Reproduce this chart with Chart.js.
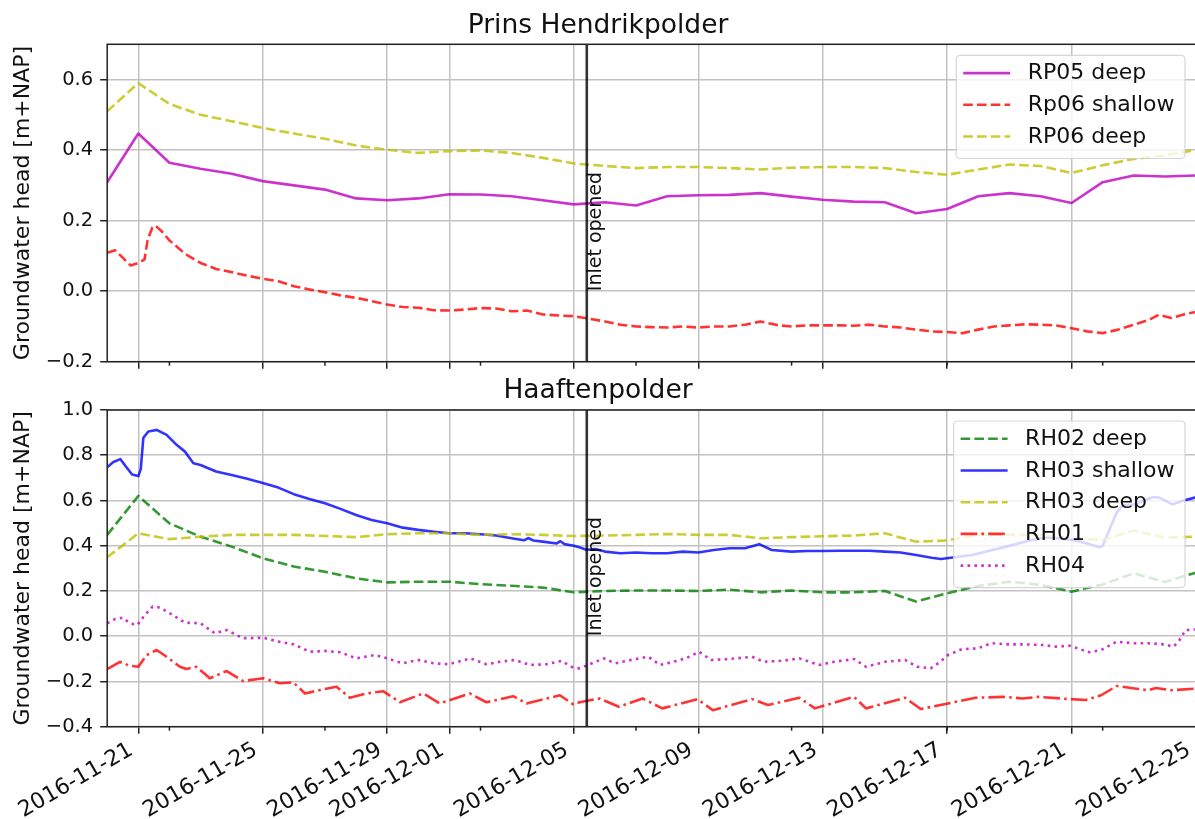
<!DOCTYPE html>
<html>
<head>
<meta charset="utf-8">
<script src="https://cdn.jsdelivr.net/npm/chart.js@4.4.1/dist/chart.umd.min.js"></script>
<style>
  html, body { margin: 0; padding: 0; background: #fff; overflow: hidden; width: 1195px; height: 819px; }
  canvas { position: absolute; left: 0; }
  #polderTop { top: 0; }
  #polderBottom { top: 370px; }
</style>
</head>
<body>
<canvas id="polderTop" width="1196" height="370"></canvas>
<canvas id="polderBottom" width="1196" height="449"></canvas>
<script>
// ---- time axis ----------------------------------------------------------
const START_DATE = '2016-11-20';
const END_DATE = '2016-12-25';
const INLET_DATE = '2016-12-05 10:00';
const INLET_LABEL = 'Inlet opened';
const TICK_DATES = ['2016-11-21', '2016-11-25', '2016-11-29', '2016-12-01', '2016-12-05',
                    '2016-12-09', '2016-12-13', '2016-12-17', '2016-12-21', '2016-12-25'];
const MINOR_TICK_DATES = ['2016-11-22', '2016-11-27', '2016-12-02', '2016-12-07',
                          '2016-12-12', '2016-12-17', '2016-12-22'];

// daily readings: one value per day starting at START_DATE (days since start)
const DAILY_DAYS = Array.from({ length: 36 }, (_, i) => i);

// ---- Prins Hendrikpolder -------------------------------------------------
const TOP_TITLE = 'Prins Hendrikpolder';
const TOP_Y_TICKS = [-0.2, 0.0, 0.2, 0.4, 0.6];

const RP05_DEEP = [0.309, 0.447, 0.364, 0.347, 0.333, 0.312, 0.300, 0.288, 0.263, 0.258,
                   0.263, 0.275, 0.274, 0.269, 0.258, 0.246, 0.252, 0.243, 0.269, 0.272,
                   0.273, 0.278, 0.268, 0.259, 0.254, 0.252, 0.221, 0.233, 0.269, 0.278,
                   0.269, 0.250, 0.309, 0.328, 0.325, 0.328];

const RP06_DEEP = [0.510, 0.590, 0.531, 0.500, 0.482, 0.463, 0.447, 0.432, 0.413, 0.401,
                   0.392, 0.397, 0.399, 0.392, 0.378, 0.362, 0.355, 0.349, 0.352, 0.352,
                   0.349, 0.345, 0.350, 0.352, 0.352, 0.349, 0.338, 0.330, 0.345, 0.359,
                   0.355, 0.335, 0.357, 0.375, 0.385, 0.401];

const RP06_SHALLOW_DAYS = [0, 0.25, 0.5, 0.75, 1, 1.2, 1.3, 1.45, 1.55, 1.75, 2, 2.5, 3, 3.5, 4,
  4.5, 5, 5.5, 6, 6.5, 7, 7.5, 8, 8.5, 9, 9.5, 10, 10.5, 11, 11.5, 12, 12.5, 13, 13.5, 14,
  14.5, 15, 15.5, 16, 16.5, 17, 17.5, 18, 18.5, 19, 19.5, 20, 20.5, 21, 21.6, 22, 22.5, 23,
  23.5, 24, 24.5, 25, 25.5, 26, 26.5, 27, 27.5, 28, 28.5, 29, 29.5, 30, 30.5, 31, 31.5, 32,
  32.5, 33, 33.5, 33.8, 34.2, 34.6, 35];
const RP06_SHALLOW = [0.109, 0.116, 0.095, 0.073, 0.080, 0.090, 0.146, 0.180, 0.186, 0.170,
  0.144, 0.106, 0.080, 0.063, 0.054, 0.044, 0.035, 0.028, 0.014, 0.005, -0.003, -0.012,
  -0.019, -0.028, -0.038, -0.045, -0.047, -0.054, -0.055, -0.052, -0.048, -0.049, -0.057,
  -0.055, -0.066, -0.069, -0.071, -0.078, -0.086, -0.095, -0.100, -0.102, -0.103, -0.100,
  -0.103, -0.100, -0.100, -0.095, -0.086, -0.097, -0.100, -0.097, -0.097, -0.097, -0.098,
  -0.095, -0.100, -0.103, -0.109, -0.114, -0.116, -0.119, -0.109, -0.100, -0.097, -0.094,
  -0.095, -0.097, -0.105, -0.114, -0.119, -0.109, -0.095, -0.081, -0.067, -0.076, -0.066,
  -0.059];

// ---- Haaftenpolder -------------------------------------------------------
const BOTTOM_TITLE = 'Haaftenpolder';
const BOTTOM_Y_TICKS = [-0.4, -0.2, 0.0, 0.2, 0.4, 0.6, 0.8, 1.0];

const RH02_DEEP = [0.448, 0.620, 0.499, 0.440, 0.396, 0.345, 0.308, 0.285, 0.256, 0.238,
                   0.241, 0.241, 0.230, 0.223, 0.215, 0.194, 0.200, 0.202, 0.202, 0.200,
                   0.206, 0.194, 0.202, 0.194, 0.194, 0.200, 0.153, 0.190, 0.222, 0.241,
                   0.227, 0.197, 0.229, 0.278, 0.240, 0.281];

const RH03_DEEP = [0.349, 0.455, 0.429, 0.440, 0.448, 0.448, 0.448, 0.443, 0.438, 0.451,
                   0.455, 0.455, 0.448, 0.451, 0.448, 0.443, 0.445, 0.448, 0.452, 0.448,
                   0.448, 0.433, 0.438, 0.442, 0.445, 0.455, 0.418, 0.423, 0.450, 0.448,
                   0.448, 0.433, 0.426, 0.467, 0.436, 0.440];

const RH03_SHALLOW_DAYS = [0, 0.2, 0.42, 0.6, 0.8, 1.0, 1.08, 1.16, 1.32, 1.59, 1.91, 2.23,
  2.5, 2.77, 3.0, 3.5, 4.0, 4.5, 5.0, 5.5, 6.0, 6.5, 7.0, 7.5, 8.0, 8.5, 9.0, 9.5, 10, 10.5,
  11, 11.5, 12, 12.5, 13, 13.4, 13.53, 13.7, 14, 14.45, 14.57, 14.7, 15, 15.2, 15.4, 15.7,
  16, 16.5, 17, 17.5, 18, 18.5, 19, 19.5, 20, 20.5, 20.96, 21.36, 22, 22.5, 23, 23.5, 24,
  24.5, 25, 25.5, 26, 26.5, 26.8, 27.8, 28.9, 29.5, 30, 30.3, 31, 31.5, 31.9, 32.0, 32.44,
  32.65, 32.95, 33.6, 33.8, 34.25, 34.6, 35];
const RH03_SHALLOW = [0.747, 0.770, 0.783, 0.750, 0.715, 0.708, 0.740, 0.876, 0.905, 0.912,
  0.890, 0.846, 0.816, 0.765, 0.757, 0.728, 0.713, 0.696, 0.677, 0.657, 0.628, 0.607, 0.588,
  0.563, 0.536, 0.514, 0.499, 0.480, 0.470, 0.462, 0.455, 0.455, 0.451, 0.445, 0.433, 0.424,
  0.434, 0.423, 0.418, 0.410, 0.420, 0.407, 0.400, 0.392, 0.382, 0.385, 0.374, 0.367, 0.370,
  0.367, 0.367, 0.374, 0.370, 0.381, 0.389, 0.389, 0.407, 0.381, 0.374, 0.377, 0.377, 0.378,
  0.378, 0.378, 0.374, 0.370, 0.359, 0.347, 0.341, 0.359, 0.396, 0.418, 0.433, 0.437, 0.426,
  0.410, 0.393, 0.400, 0.544, 0.580, 0.580, 0.614, 0.614, 0.583, 0.600, 0.614];

const RH01_DAYS = [0, 0.41, 0.73, 1.0, 1.27, 1.59, 1.91, 2.34, 2.55, 2.87, 3.3, 3.84, 4.37,
  5.02, 5.55, 5.98, 6.36, 6.84, 7.37, 7.8, 8.34, 8.87, 9.41, 10.16, 10.69, 11.12, 11.66,
  12.19, 13.05, 13.48, 14.55, 14.98, 15.19, 15.82, 16.45, 17.21, 17.84, 18.97, 19.47, 20.73,
  21.24, 22.25, 22.75, 24.01, 24.39, 25.65, 26.15, 27.03, 27.92, 28.8, 29.43, 29.93, 30.94,
  31.45, 31.95, 32.45, 33.08, 33.46, 33.71, 34.22, 34.95];
const RH01 = [-0.145, -0.113, -0.131, -0.135, -0.083, -0.061, -0.091, -0.135, -0.145, -0.135,
  -0.186, -0.154, -0.198, -0.186, -0.208, -0.204, -0.253, -0.238, -0.223, -0.272, -0.253,
  -0.243, -0.292, -0.253, -0.297, -0.278, -0.253, -0.292, -0.265, -0.297, -0.261, -0.301,
  -0.292, -0.275, -0.312, -0.275, -0.319, -0.278, -0.327, -0.278, -0.304, -0.272, -0.319,
  -0.268, -0.319, -0.272, -0.322, -0.297, -0.272, -0.268, -0.275, -0.268, -0.278, -0.282,
  -0.261, -0.220, -0.232, -0.239, -0.229, -0.239, -0.232];

const RH04_DAYS = [0, 0.25, 0.5, 0.73, 0.97, 1.21, 1.46, 1.70, 2.02, 2.5, 3.0, 3.46, 3.84,
  4.37, 5.02, 5.52, 6.0, 6.52, 7.0, 7.5, 8.0, 8.6, 9.0, 9.5, 10.0, 10.5, 10.96, 11.68, 12.19,
  12.62, 13.1, 13.59, 14.12, 14.6, 14.98, 15.19, 15.97, 16.32, 17.08, 17.4, 17.77, 18.2,
  18.6, 19.03, 19.41, 19.98, 20.73, 21.11, 21.74, 22.25, 22.88, 23.38, 24.01, 24.39, 25.02,
  25.65, 26.03, 26.47, 26.78, 27.03, 27.48, 27.98, 28.42, 28.92, 29.49, 30.06, 30.5, 30.94,
  31.57, 31.95, 32.45, 32.96, 33.46, 33.97, 34.28, 34.47, 34.66, 35];
const RH04 = [0.057, 0.076, 0.082, 0.057, 0.050, 0.094, 0.131, 0.127, 0.101, 0.060, 0.057,
  0.013, 0.027, -0.009, -0.007, -0.024, -0.036, -0.069, -0.065, -0.071, -0.098, -0.083,
  -0.098, -0.120, -0.105, -0.120, -0.124, -0.098, -0.124, -0.113, -0.105, -0.127, -0.124,
  -0.109, -0.139, -0.142, -0.098, -0.120, -0.098, -0.091, -0.127, -0.113, -0.098, -0.069,
  -0.105, -0.101, -0.091, -0.113, -0.108, -0.098, -0.127, -0.113, -0.101, -0.135, -0.113,
  -0.105, -0.135, -0.142, -0.113, -0.083, -0.057, -0.054, -0.031, -0.036, -0.036, -0.039,
  -0.046, -0.042, -0.071, -0.061, -0.024, -0.031, -0.031, -0.036, -0.046, -0.017, 0.027,
  0.030];

// ---- styling --------------------------------------------------------------
const FONT = '"DejaVu Sans", sans-serif';
const INK = '#111';
const GRID = '#c2c2c2';
const SPINE = '#222';
const LW = 2.6;
const SOLID = [];
const DASHED = [LW * 3.7, LW * 1.6];
const DOTTED = [LW, LW * 1.65];
const DASH_DOT = [LW * 6.4, LW * 1.6, LW, LW * 1.6];
const MAGENTA = 'rgba(191,0,191,0.8)';
const RED = 'rgba(255,0,0,0.8)';
const OLIVE = 'rgba(191,191,0,0.8)';
const GREEN = 'rgba(0,128,0,0.8)';
const BLUE = 'rgba(0,0,255,0.8)';

const DAY_MS = 86400000;
const START_MS = Date.parse(START_DATE + 'T00:00:00Z');
function dayOf(s) {
  const iso = s.length > 10 ? s.replace(' ', 'T') + ':00Z' : s + 'T00:00:00Z';
  return (Date.parse(iso) - START_MS) / DAY_MS;
}
function fmtHead(v) {
  if (Math.abs(v) < 1e-9) return '0.0';
  return (v < 0 ? '\u2212' : '') + Math.abs(v).toFixed(1);
}
function points(days, values) {
  return days.map((d, i) => ({ x: d, y: values[i] }));
}

// vertical "inlet opened" marker, axes frame, minor ticks and boxed legend
const decorations = {
  id: 'decorations',
  afterDatasetsDraw(chart) {
    const { ctx, chartArea: a, scales: { x, y } } = chart;
    const px = x.getPixelForValue(dayOf(INLET_DATE));
    ctx.save();
    ctx.strokeStyle = 'rgba(0,0,0,0.8)';
    ctx.lineWidth = LW;
    ctx.beginPath();
    ctx.moveTo(px, a.top);
    ctx.lineTo(px, a.bottom);
    ctx.stroke();
    ctx.translate(px, y.getPixelForValue(0));
    ctx.rotate(-Math.PI / 2);
    ctx.font = '19px ' + FONT;
    ctx.fillStyle = INK;
    ctx.textAlign = 'left';
    ctx.textBaseline = 'top';
    ctx.fillText(INLET_LABEL, 0, 0);
    ctx.restore();

    ctx.save();
    ctx.strokeStyle = SPINE;
    ctx.lineWidth = 1.5;
    ctx.strokeRect(a.left, a.top, a.right - a.left, a.bottom - a.top);
    ctx.restore();
  },
  afterDraw(chart) {
    const { ctx, chartArea: a, scales: { x } } = chart;
    ctx.save();
    ctx.strokeStyle = SPINE;
    ctx.lineWidth = 1.5;
    MINOR_TICK_DATES.forEach(d => {
      const px = x.getPixelForValue(dayOf(d));
      ctx.beginPath();
      ctx.moveTo(px, a.bottom);
      ctx.lineTo(px, a.bottom + 4);
      ctx.stroke();
    });
    ctx.restore();

    // legend box in the upper right corner of the axes
    const sets = chart.data.datasets;
    ctx.save();
    ctx.font = '22px ' + FONT;
    const textW = Math.max(...sets.map(s => ctx.measureText(s.label).width));
    const padL = 7, handle = 47, gap = 17.5, padR = 10.5;
    const pitch = 31.7, firstRow = 17.8, lastRow = 22;
    const w = padL + handle + gap + textW + padR;
    const h = firstRow + (sets.length - 1) * pitch + lastRow;
    const x0 = a.right - 11 - w, y0 = a.top + 11, r = 4;
    ctx.beginPath();
    ctx.moveTo(x0 + r, y0);
    ctx.lineTo(x0 + w - r, y0);
    ctx.arcTo(x0 + w, y0, x0 + w, y0 + r, r);
    ctx.lineTo(x0 + w, y0 + h - r);
    ctx.arcTo(x0 + w, y0 + h, x0 + w - r, y0 + h, r);
    ctx.lineTo(x0 + r, y0 + h);
    ctx.arcTo(x0, y0 + h, x0, y0 + h - r, r);
    ctx.lineTo(x0, y0 + r);
    ctx.arcTo(x0, y0, x0 + r, y0, r);
    ctx.closePath();
    ctx.fillStyle = 'rgba(255,255,255,0.8)';
    ctx.fill();
    ctx.strokeStyle = 'rgba(204,204,204,0.8)';
    ctx.lineWidth = 1.2;
    ctx.stroke();
    sets.forEach((s, i) => {
      const ry = y0 + firstRow + i * pitch;
      ctx.strokeStyle = s.borderColor;
      ctx.lineWidth = s.borderWidth;
      ctx.lineCap = 'butt';
      ctx.setLineDash(s.borderDash || []);
      ctx.beginPath();
      ctx.moveTo(x0 + padL, ry);
      ctx.lineTo(x0 + padL + handle, ry);
      ctx.stroke();
      ctx.setLineDash([]);
      ctx.fillStyle = INK;
      ctx.textAlign = 'left';
      ctx.textBaseline = 'middle';
      ctx.fillText(s.label, x0 + padL + handle + gap, ry + 0.5);
    });
    ctx.restore();
  }
};

Chart.defaults.font.family = FONT;
Chart.defaults.color = INK;

function buildPanel(canvasId, opts) {
  const n = opts.series.length;
  return new Chart(document.getElementById(canvasId), {
    type: 'line',
    data: {
      datasets: opts.series.map((s, i) => ({
        label: s.label,
        data: points(s.days, s.values),
        borderColor: s.color,
        borderWidth: LW,
        borderDash: s.dash,
        borderCapStyle: 'butt',
        borderJoinStyle: 'round',
        pointRadius: 0,
        tension: 0,
        fill: false,
        order: n - i
      }))
    },
    options: {
      responsive: false,
      animation: false,
      devicePixelRatio: 1,
      events: [],
      layout: { padding: 0 },
      plugins: {
        legend: { display: false },
        tooltip: { enabled: false },
        title: {
          display: true,
          text: opts.title,
          color: INK,
          font: { family: FONT, size: 26.5, weight: 'normal' },
          padding: { top: opts.titleTop, bottom: 2.6 }
        }
      },
      scales: {
        x: {
          type: 'linear',
          min: dayOf(START_DATE),
          max: dayOf(END_DATE),
          afterBuildTicks: s => { s.ticks = TICK_DATES.map(t => ({ value: dayOf(t) })); },
          afterFit: s => { s.height = opts.xAxisHeight; s.paddingLeft = 0; s.paddingRight = 0; },
          border: { display: false },
          grid: { color: GRID, lineWidth: 1.5, tickLength: 7, tickColor: SPINE, tickWidth: 1.5 },
          ticks: {
            display: opts.showDates,
            autoSkip: false,
            minRotation: 30,
            maxRotation: 30,
            padding: 3.5,
            labelOffset: -7,
            color: INK,
            font: { family: FONT, size: 22 },
            callback: (v, i) => TICK_DATES[i]
          }
        },
        y: {
          type: 'linear',
          min: opts.yMin,
          max: opts.yMax,
          afterBuildTicks: s => { s.ticks = opts.yTicks.map(v => ({ value: v })); },
          afterFit: s => { s.width = 107.2; s.paddingTop = 0; s.paddingBottom = 0; },
          border: { display: false },
          grid: { color: GRID, lineWidth: 1.5, tickLength: 7, tickColor: SPINE, tickWidth: 1.5 },
          ticks: {
            padding: 7,
            color: INK,
            font: { family: FONT, size: 19.5 },
            callback: v => fmtHead(v)
          },
          title: {
            display: true,
            text: 'Groundwater head [m+NAP]',
            color: INK,
            font: { family: FONT, size: 22 },
            padding: { top: 10, bottom: 0 }
          }
        }
      }
    },
    plugins: [decorations]
  });
}

buildPanel('polderTop', {
  title: TOP_TITLE,
  titleTop: 9.9,
  xAxisHeight: 8.3,
  showDates: false,
  yMin: -0.2, yMax: 0.7, yTicks: TOP_Y_TICKS,
  series: [
    { label: 'RP05 deep', days: DAILY_DAYS, values: RP05_DEEP, color: MAGENTA, dash: SOLID },
    { label: 'Rp06 shallow', days: RP06_SHALLOW_DAYS, values: RP06_SHALLOW, color: RED, dash: DASHED },
    { label: 'RP06 deep', days: DAILY_DAYS, values: RP06_DEEP, color: OLIVE, dash: DASHED }
  ]
});

buildPanel('polderBottom', {
  title: BOTTOM_TITLE,
  titleTop: 5.6,
  xAxisHeight: 92.3,
  showDates: true,
  yMin: -0.4, yMax: 1.0, yTicks: BOTTOM_Y_TICKS,
  series: [
    { label: 'RH02 deep', days: DAILY_DAYS, values: RH02_DEEP, color: GREEN, dash: DASHED },
    { label: 'RH03 shallow', days: RH03_SHALLOW_DAYS, values: RH03_SHALLOW, color: BLUE, dash: SOLID },
    { label: 'RH03 deep', days: DAILY_DAYS, values: RH03_DEEP, color: OLIVE, dash: DASHED },
    { label: 'RH01', days: RH01_DAYS, values: RH01, color: RED, dash: DASH_DOT },
    { label: 'RH04', days: RH04_DAYS, values: RH04, color: MAGENTA, dash: DOTTED }
  ]
});
</script>
</body>
</html>
